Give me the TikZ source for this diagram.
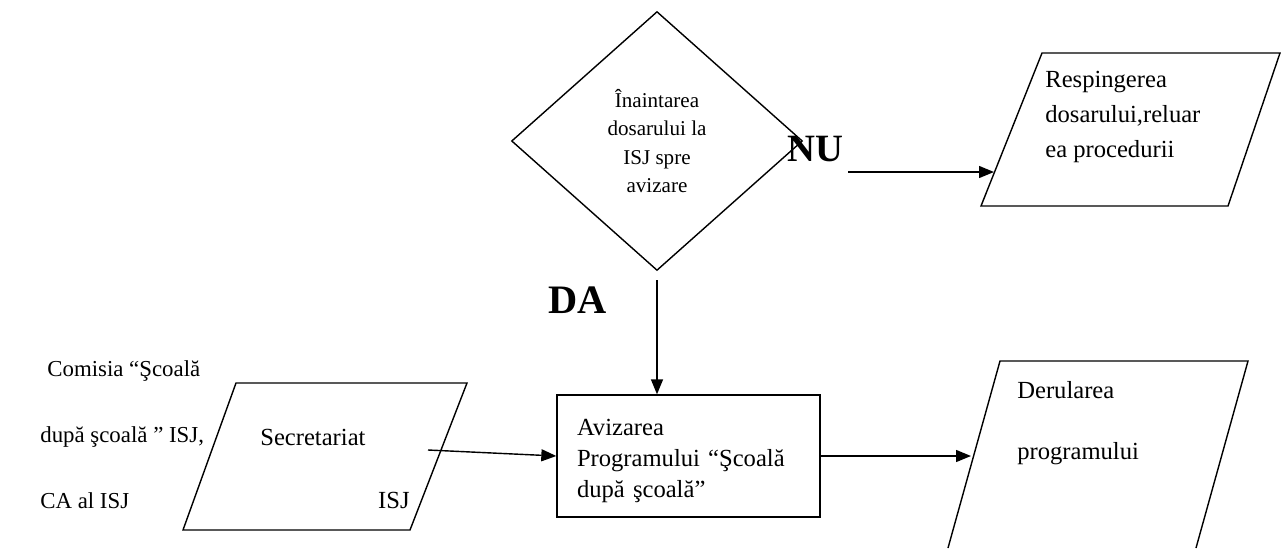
\documentclass[tikz,border=0pt]{standalone}
\usepackage{fontspec}
\setmainfont{Liberation Serif}
\usetikzlibrary{shapes.geometric,arrows.meta}
\tikzset{
  txt/.style={font=\fontsize{14}{20}\selectfont, align=left, inner sep=0pt},
  yesno/.style={font=\fontsize{22}{22}\selectfont\bfseries, inner sep=0pt},
  flow/.style={line width=0.8pt, -{Triangle[length=0.3cm,width=0.24cm]}},
  border/.style={line width=0.8pt}
}
\begin{document}
\begin{tikzpicture}[x=0.02cm,y=-0.02cm]
\useasboundingbox (0,0) rectangle (1282,548);
% decision
\node[draw, border, diamond, minimum width=5.82cm, minimum height=5.18cm, inner sep=0pt,
  align=center, font=\fontsize{12}{16}\selectfont] (dec) at (657,141)
  {Înaintarea\\dosarului la\\ISJ spre\\avizare};
\node[yesno] (nu) at (815,149) {NU};
\node[yesno, font=\fontsize{23}{23}\selectfont\bfseries] (da) at (578,300) {DA};
% rejection
\draw[border] (981,206) -- (1042,53) -- (1280,53) -- (1228,206) -- cycle;
\node[txt, anchor=north west] (resp) at (1045,71) {Respingerea\\dosarului,reluar\\ea procedurii};
\coordinate (nuout) at (848,172);
\coordinate (respin) at (994,172);
\draw[flow] (nuout) -- (respin);
% approval
\node[draw, border, minimum width=5.26cm, minimum height=2.44cm, text width=4.46cm,
  inner xsep=0.4cm, inner ysep=0pt, align=left, font=\fontsize{14}{17.4}\selectfont] (aviz) at (688.5,456)
  {\rule{0pt}{15pt}Avizarea\\Programului “Şcoală\\după şcoală”};
\draw[flow, shorten <=0.18cm] (dec.south) -- (dec.south |- aviz.north);
% secretariat
\node[txt, anchor=north west, font=\fontsize{13}{37.6}\selectfont] (com) at (40,360)
  {\hspace*{0.14cm}Comisia “Şcoală\\după şcoală ” ISJ,\\CA al ISJ};
\draw[border] (236,383) -- (467,383) -- (410,530) -- (183,530) -- cycle;
\node[txt, anchor=west] (sec) at (260,437) {Secretariat};
\node[txt, anchor=east] (isj) at (410,500) {ISJ};
\coordinate (secout) at (428,450);
\draw[flow] (secout) -- (aviz.west);
% running
\draw[border] (948,548) -- (1000,361) -- (1248,361) -- (1196,548);
\node[txt, anchor=north west, font=\fontsize{14}{35}\selectfont] (der) at (1017,381) {Derularea\\programului};
\coordinate (derin) at (971,456);
\draw[flow] (aviz.east) -- (derin);
\end{tikzpicture}
\end{document}
